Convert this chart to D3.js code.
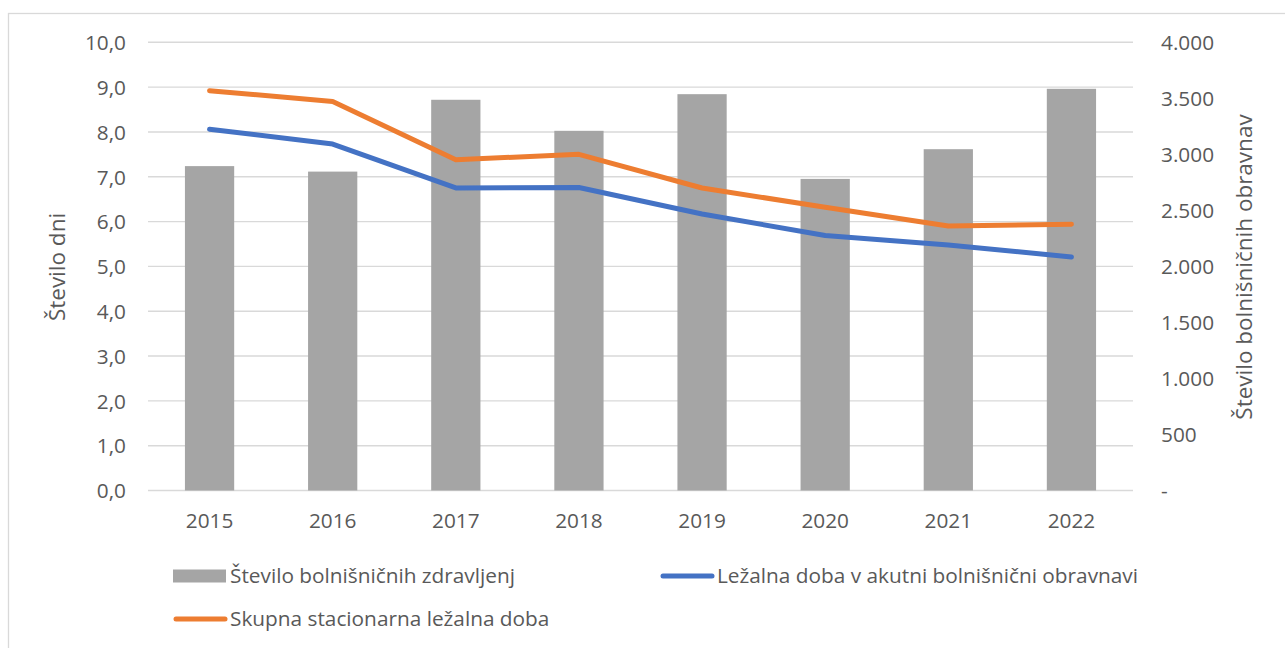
<!DOCTYPE html>
<html>
<head>
<meta charset="utf-8">
<script src="https://cdn.jsdelivr.net/npm/d3@7"></script>
<style>
  body { margin: 0; background: #fff; }
  svg text { font-family: "Open Sans", sans-serif; fill: #595959; }
</style>
</head>
<body>
<svg id="chart" width="1285" height="648"></svg>
<script>
const years = ['2015', '2016', '2017', '2018', '2019', '2020', '2021', '2022'];

// bars, right axis
const zdravljenj = [2895, 2846, 3487, 3210, 3537, 2781, 3046, 3585];
// lines, left axis
const akutna = [8.06, 7.73, 6.75, 6.76, 6.17, 5.69, 5.48, 5.21];
const skupna = [8.92, 8.68, 7.38, 7.50, 6.75, 6.32, 5.90, 5.94];

const leftTicks = [0, 1, 2, 3, 4, 5, 6, 7, 8, 9, 10];
const rightTicks = [0, 500, 1000, 1500, 2000, 2500, 3000, 3500, 4000];

const legendItems = [
    {name: 'Število bolnišničnih zdravljenj', kind: 'bar', color: '#a5a5a5'},
    {name: 'Ležalna doba v akutni bolnišnični obravnavi', kind: 'line', color: '#4472c4'},
    {name: 'Skupna stacionarna ležalna doba', kind: 'line', color: '#ed7d31'},
];

const svg = d3.select('#chart');
const plotLeft = 148, plotRight = 1133, plotTop = 42.3, plotBottom = 490.5;
const fs = 20.8;

const loc = d3.formatLocale({decimal: ',', thousands: '.', grouping: [3], currency: ['', '€']});
const fmtLeft = loc.format('.1f');
const fmtRight = (v) => v === 0 ? '-' : loc.format(',')(v);

// outer frame
svg.append('rect')
    .attr('x', 8.5).attr('y', 13.5)
    .attr('width', 1400).attr('height', 800)
    .attr('fill', 'none')
    .attr('stroke', '#d9d9d9')
    .attr('stroke-width', 1.3);

const x = d3.scaleBand()
    .domain(years)
    .range([plotLeft, plotRight])
    .paddingInner(0.6)
    .paddingOuter(0.3);

const yL = d3.scaleLinear().domain([0, 10]).range([plotBottom, plotTop]);
const yR = d3.scaleLinear().domain([0, 4000]).range([plotBottom, plotTop]);

// grid
svg.append('g')
    .selectAll('line')
    .data(leftTicks)
    .enter()
    .append('line')
    .attr('x1', plotLeft).attr('x2', plotRight)
    .attr('y1', d => yL(d)).attr('y2', d => yL(d))
    .attr('stroke', '#d9d9d9')
    .attr('stroke-width', 1.4);

// left axis
const axL = svg.append('g')
    .attr('transform', `translate(126,0)`)
    .call(d3.axisLeft(yL).tickValues(leftTicks).tickFormat(fmtLeft).tickSize(0).tickPadding(0));
axL.select('.domain').remove();
axL.selectAll('text').attr('font-size', fs).attr('dy', '0.35em');

// right axis
const axR = svg.append('g')
    .attr('transform', `translate(1161,0)`)
    .call(d3.axisRight(yR).tickValues(rightTicks).tickFormat(fmtRight).tickSize(0).tickPadding(0));
axR.select('.domain').remove();
axR.selectAll('text').attr('font-size', fs).attr('dy', '0.35em');

// x axis
const axX = svg.append('g')
    .attr('transform', `translate(0,${plotBottom})`)
    .call(d3.axisBottom(x).tickSize(0).tickPadding(0));
axX.select('.domain').remove();
axX.selectAll('text').attr('font-size', fs).attr('dy', '37.5');

// bars
svg.append('g')
    .selectAll('rect')
    .data(zdravljenj)
    .enter()
    .append('rect')
    .attr('x', (d, i) => x(years[i]))
    .attr('y', d => yR(d))
    .attr('width', x.bandwidth())
    .attr('height', d => plotBottom - yR(d))
    .attr('fill', '#a5a5a5');

// lines
const line = d3.line()
    .x((d, i) => x(years[i]) + x.bandwidth() / 2)
    .y(d => yL(d));

[[akutna, '#4472c4'], [skupna, '#ed7d31']].forEach(([vals, col]) => {
    svg.append('path')
        .datum(vals)
        .attr('d', line)
        .attr('fill', 'none')
        .attr('stroke', col)
        .attr('stroke-width', 5)
        .attr('stroke-linecap', 'round')
        .attr('stroke-linejoin', 'round');
});

// axis titles
svg.append('text')
    .attr('transform', 'translate(65,267) rotate(-90)')
    .attr('text-anchor', 'middle')
    .attr('font-size', 22.5)
    .text('Število dni');

svg.append('text')
    .attr('transform', 'translate(1252,267) rotate(-90)')
    .attr('text-anchor', 'middle')
    .attr('font-size', 22.5)
    .text('Število bolnišničnih obravnav');

// legend
const legendPos = [[173, 576], [660, 576], [173, 619]];
const leg = svg.append('g')
    .selectAll('g')
    .data(legendItems)
    .enter()
    .append('g')
    .attr('transform', (d, i) => `translate(${legendPos[i][0]},${legendPos[i][1]})`);

leg.filter(d => d.kind === 'bar')
    .append('rect')
    .attr('x', 0).attr('y', -6.5)
    .attr('width', 53).attr('height', 13)
    .attr('fill', d => d.color);

leg.filter(d => d.kind === 'line')
    .append('line')
    .attr('x1', 3).attr('x2', 52)
    .attr('y1', 0).attr('y2', 0)
    .attr('stroke', d => d.color)
    .attr('stroke-width', 5)
    .attr('stroke-linecap', 'round');

leg.append('text')
    .attr('x', 57)
    .attr('dy', '0.35em')
    .attr('font-size', fs)
    .text(d => d.name);
</script>
</body>
</html>
